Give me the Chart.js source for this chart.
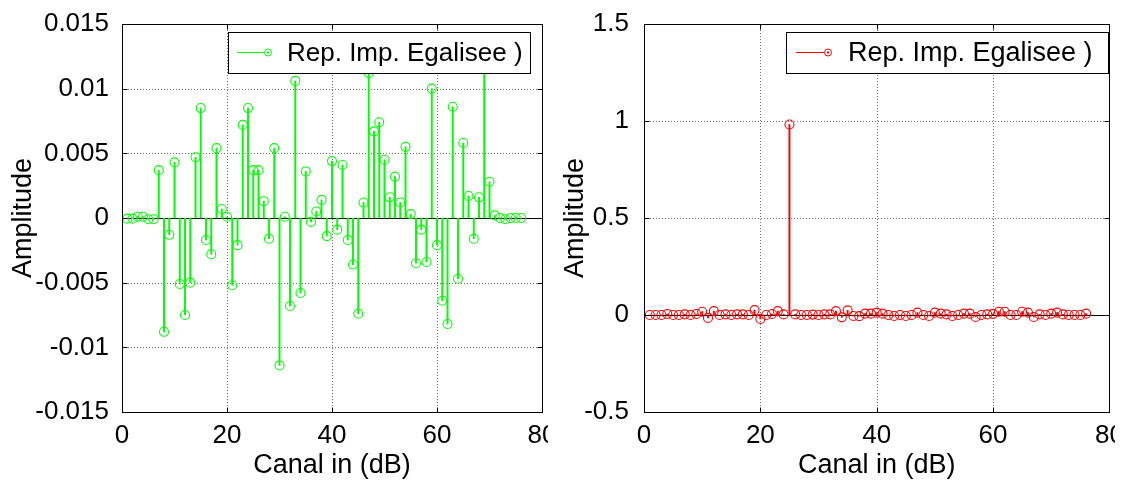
<!DOCTYPE html>
<html>
<head>
<meta charset="utf-8">
<script src="https://cdn.jsdelivr.net/npm/chart.js@4/dist/chart.umd.min.js"></script>
<style>
  html, body { margin: 0; padding: 0; background: #fff; }
  #wrap { position: relative; width: 1123px; height: 484px; overflow: hidden; background: #fff; }
  #wrap canvas { position: absolute; top: 0; }
</style>
</head>
<body>
<div id="wrap">
  <canvas id="leftPlot" width="548" height="484" style="left:0"></canvas>
  <canvas id="rightPlot" width="567" height="484" style="left:548px"></canvas>
</div>
<script>
// Channel index (x) shared by both stem plots
const channels = [
  1, 2, 3, 4, 5, 6, 7, 8, 9, 10, 11, 12, 13, 14, 15, 16, 17, 18, 19, 20,
  21, 22, 23, 24, 25, 26, 27, 28, 29, 30, 31, 32, 33, 34, 35, 36, 37, 38, 39, 40,
  41, 42, 43, 44, 45, 46, 47, 48, 49, 50, 51, 52, 53, 54, 55, 56, 57, 58, 59, 60,
  61, 62, 63, 64, 65, 66, 67, 68, 69, 70, 71, 72, 73, 74, 75, 76
];

// Left panel: residual equalised impulse response
const leftAmp = [
  -0.00005, -0.00005, 0.0001, 0.0001, -0.0001, -0.0001, 0.0037, -0.0088, -0.0013, 0.0043,
  -0.0051, -0.0075, -0.0050, 0.0047, 0.0085, -0.0017, -0.0028, 0.0054, 0.0007, 0.0001,
  -0.0052, -0.0021, 0.0072, 0.0085, 0.0037, 0.0037, 0.0013, -0.0016, 0.0054, -0.0114,
  0.0001, -0.0068, 0.0106, -0.0058, 0.0036, -0.0003, 0.0005, 0.0014, -0.0014, 0.0044,
  -0.0009, 0.0041, -0.0017, -0.0036, -0.0074, 0.0012, 0.0112, 0.0067, 0.0074, 0.0045,
  0.0016, 0.0032, 0.0012, 0.0055, 0.0003, -0.0035, -0.0009, -0.0034, 0.0100, -0.0021,
  -0.0064, -0.0082, 0.0086, -0.0047, 0.0058, 0.0017, -0.0016, 0.0016, 0.0125, 0.0028,
  0.0002, 0.0000, -0.0001, 0.0000, 0.0000, 0.0000
];

// Right panel: equalised impulse response (single main tap)
const rightAmp = [
  0.000, 0.000, 0.000, 0.005, 0.000, 0.000, 0.003, 0.000, 0.005, 0.017,
  -0.015, 0.020, 0.000, 0.003, 0.000, 0.003, 0.003, 0.000, 0.025, -0.020,
  0.000, 0.005, 0.020, 0.003, 0.982, 0.003, 0.000, 0.000, 0.002, 0.000,
  0.003, 0.003, 0.020, -0.012, 0.024, -0.005, -0.006, 0.007, 0.007, 0.012,
  0.007, 0.000, -0.005, 0.000, -0.005, 0.000, 0.012, 0.000, -0.005, 0.012,
  0.007, 0.003, -0.005, 0.000, 0.007, 0.007, -0.010, 0.000, 0.003, 0.006,
  0.017, 0.017, 0.000, 0.000, 0.017, 0.012, -0.010, 0.003, 0.000, 0.007,
  0.012, 0.003, 0.000, 0.000, 0.000, 0.007
];

// Tick values and labels
const xTickValues = [0, 20, 40, 60, 80];
const xTickLabels = ['0', '20', '40', '60', '80'];
const leftYTickValues = [-0.015, -0.01, -0.005, 0, 0.005, 0.01, 0.015];
const leftYTickLabels = ['-0.015', '-0.01', '-0.005', '0', '0.005', '0.01', '0.015'];
const rightYTickValues = [-0.5, 0, 0.5, 1, 1.5];
const rightYTickLabels = ['-0.5', '0', '0.5', '1', '1.5'];

const seriesName = 'Rep. Imp. Egalisee )';
const xTitle = 'Canal in (dB)';
const yTitle = 'Amplitude';

const FONT = '"Liberation Sans", Arial, Helvetica, sans-serif';
Chart.defaults.font.family = FONT;
Chart.defaults.color = '#000';

// Draws the dotted grid, zero baseline, boxed axes with inward ticks and the legend
const stemFrame = {
  id: 'stemFrame',
  beforeDatasetsDraw(chart) {
    const { ctx, chartArea: a, scales: { x, y } } = chart;
    ctx.save();
    ctx.lineWidth = 1;
    ctx.strokeStyle = '#6e6e6e';
    ctx.setLineDash([1, 2]);
    ctx.beginPath();
    for (const t of x.ticks) {
      const px = Math.round(x.getPixelForValue(t.value)) + 0.5;
      if (px <= a.left + 2 || px >= a.right - 2) continue;
      ctx.moveTo(px, a.top); ctx.lineTo(px, a.bottom);
    }
    for (const t of y.ticks) {
      const py = Math.round(y.getPixelForValue(t.value)) + 0.5;
      if (py <= a.top + 2 || py >= a.bottom - 2) continue;
      ctx.moveTo(a.left, py); ctx.lineTo(a.right, py);
    }
    ctx.stroke();
    ctx.setLineDash([]);
    const y0 = Math.round(y.getPixelForValue(0)) + 0.5;
    ctx.strokeStyle = '#000';
    ctx.beginPath();
    ctx.moveTo(a.left, y0); ctx.lineTo(a.right, y0);
    ctx.stroke();
    ctx.restore();
  },
  afterDatasetsDraw(chart, args, opts) {
    const { ctx, chartArea: a, scales: { x, y } } = chart;
    ctx.save();
    ctx.lineWidth = 1;
    ctx.strokeStyle = '#000';
    const L = Math.round(a.left) + 0.5, R = Math.round(a.right) + 0.5;
    const T = Math.round(a.top) + 0.5, B = Math.round(a.bottom) + 0.5;
    ctx.strokeRect(L, T, R - L, B - T);
    const tk = 5;
    ctx.beginPath();
    for (const t of x.ticks) {
      const px = Math.round(x.getPixelForValue(t.value)) + 0.5;
      ctx.moveTo(px, B); ctx.lineTo(px, B - tk);
      ctx.moveTo(px, T); ctx.lineTo(px, T + tk);
    }
    for (const t of y.ticks) {
      const py = Math.round(y.getPixelForValue(t.value)) + 0.5;
      ctx.moveTo(L, py); ctx.lineTo(L + tk, py);
      ctx.moveTo(R, py); ctx.lineTo(R - tk, py);
    }
    ctx.stroke();

    // legend
    const g = opts.legend;
    ctx.fillStyle = '#fff';
    ctx.fillRect(g.x, g.y, g.w, g.h);
    ctx.strokeStyle = '#000';
    ctx.strokeRect(g.x + 0.5, g.y + 0.5, g.w, g.h);
    const cy = g.y + g.h / 2;
    ctx.strokeStyle = opts.color;
    ctx.beginPath();
    ctx.moveTo(g.lineFrom, cy); ctx.lineTo(g.lineTo, cy);
    ctx.stroke();
    ctx.beginPath();
    ctx.arc(g.marker, cy, 3.5, 0, Math.PI * 2);
    ctx.stroke();
    ctx.fillStyle = opts.color;
    ctx.fillRect(g.marker - 1, cy - 1, 2, 2);
    ctx.fillStyle = '#000';
    ctx.font = g.fontSize + 'px ' + FONT;
    ctx.textBaseline = 'middle';
    ctx.textAlign = 'left';
    ctx.fillText(seriesName, g.textX, cy + 1);
    ctx.restore();
  }
};

function stemChart(canvasId, values, color, yMin, yMax, yVals, yLabels, geo) {
  const pts = channels.map((c, i) => ({ x: c, y: values[i] }));
  return new Chart(document.getElementById(canvasId), {
    type: 'bar',
    data: {
      datasets: [
        {
          type: 'bar', label: seriesName, data: pts,
          backgroundColor: color, borderWidth: 0, barThickness: 1.3, order: 2
        },
        {
          type: 'line', label: seriesName, data: pts, showLine: false,
          pointRadius: 4.5, pointBorderWidth: 1.1, pointBorderColor: color,
          pointBackgroundColor: 'rgba(0,0,0,0)', order: 1
        }
      ]
    },
    options: {
      responsive: false,
      animation: false,
      events: [],
      layout: { padding: { left: 0, top: geo.top, right: geo.padRight, bottom: 0 } },
      plugins: {
        legend: { display: false },
        tooltip: { enabled: false },
        stemFrame: { color, legend: geo.legend }
      },
      scales: {
        x: {
          type: 'linear', min: 0, max: 80, offset: false,
          grid: { display: false, offset: false }, border: { display: false },
          afterBuildTicks: s => { s.ticks = xTickValues.map(v => ({ value: v })); },
          ticks: {
            callback: (v, i) => xTickLabels[i], padding: geo.xTickPad,
            font: { size: geo.tickSize }, color: '#000', maxRotation: 0, autoSkip: false
          },
          title: {
            display: true, text: xTitle, color: '#000',
            font: { size: geo.titleSize }, padding: { top: 0, bottom: geo.xTitlePad }
          },
          afterFit: s => { s.height = geo.xHeight; s.paddingLeft = 0; s.paddingRight = 0; }
        },
        y: {
          type: 'linear', min: yMin, max: yMax,
          grid: { display: false }, border: { display: false },
          afterBuildTicks: s => { s.ticks = yVals.map(v => ({ value: v })); },
          ticks: {
            callback: (v, i) => yLabels[i], padding: geo.yTickPad,
            font: { size: geo.tickSize }, color: '#000', autoSkip: false
          },
          title: {
            display: true, text: yTitle, color: '#000',
            font: { size: geo.titleSize }, padding: { top: geo.yTitlePad, bottom: 0 }
          },
          afterFit: s => { s.width = geo.yWidth; s.paddingTop = 0; s.paddingBottom = 0; }
        }
      }
    },
    plugins: [stemFrame]
  });
}

stemChart('leftPlot', leftAmp, '#00ff00', -0.015, 0.015, leftYTickValues, leftYTickLabels, {
  top: 24, padRight: 6, xHeight: 72, yWidth: 122, tickSize: 26, titleSize: 27,
  xTickPad: 0, xTitlePad: 2, yTickPad: 5, yTitlePad: 7,
  legend: { x: 228, y: 32, w: 302, h: 41, lineFrom: 237, lineTo: 264, marker: 268, textX: 287, fontSize: 26 }
});

stemChart('rightPlot', rightAmp, '#ff0000', -0.5, 1.5, rightYTickValues, rightYTickLabels, {
  top: 24, padRight: 3, xHeight: 72, yWidth: 96, tickSize: 26, titleSize: 27,
  xTickPad: 0, xTitlePad: 2, yTickPad: 7, yTitlePad: 11,
  legend: { x: 238, y: 32, w: 322, h: 41, lineFrom: 248, lineTo: 276, marker: 280, textX: 300, fontSize: 27 }
});
</script>
</body>
</html>
